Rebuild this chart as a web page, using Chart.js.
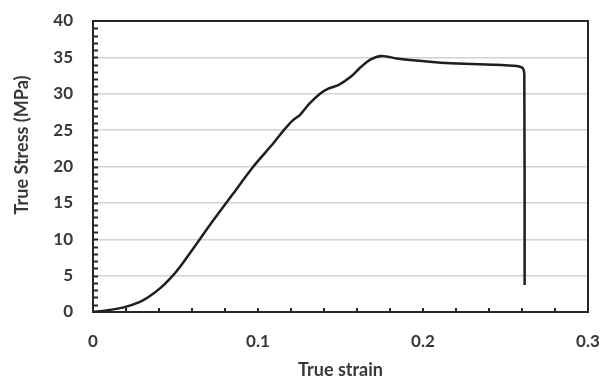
<!DOCTYPE html>
<html>
<head>
<meta charset="utf-8">
<script src="https://cdn.jsdelivr.net/npm/chart.js@4/dist/chart.umd.min.js"></script>
<style>
    html, body { margin: 0; padding: 0; background: #fff; }
    #wrap { width: 603px; height: 381px; }
</style>
</head>
<body>
<div id="wrap"><canvas id="stressChart" width="603" height="381"></canvas></div>
<script>
// values
const strain = [0, 0.008, 0.018, 0.0285, 0.0345, 0.0406, 0.0467, 0.0527, 0.0729, 0.085, 0.0972,
    0.1093, 0.1153, 0.1214, 0.1255, 0.131, 0.1376, 0.1426, 0.1487, 0.156, 0.162, 0.168, 0.175, 0.184,
    0.204, 0.2164, 0.2426, 0.2568, 0.2605, 0.2614, 0.2616];
const stress = [0, 0.2, 0.6, 1.4, 2.2, 3.25, 4.6, 6.2, 12.6, 16.3, 20.0,
    23.2, 24.9, 26.4, 27.1, 28.6, 30.0, 30.7, 31.2, 32.3, 33.6, 34.7, 35.2, 34.85,
    34.4, 34.2, 34.0, 33.8, 33.5, 32.5, 3.7];
const xTicks = [0, 0.1, 0.2, 0.3];
const yTicks = [0, 5, 10, 15, 20, 25, 30, 35, 40];
const xTitle = 'True strain';
const yTitle = 'True Stress (MPa)';

const TEXT_COLOR = '#383838';
const FONT = 'Lato, "Open Sans", sans-serif';

const points = strain.map((s, i) => ({ x: s, y: stress[i] }));

// frame, minor ticks and rotated y title
const framePlugin = {
    id: 'frame',
    afterDraw(chart) {
        const { ctx, chartArea: a, scales } = chart;
        const xs = scales.x, ys = scales.y;
        ctx.save();
        ctx.strokeStyle = '#262626';
        ctx.lineWidth = 2;

        ctx.beginPath();
        for (let v = 0.02; v < 0.3; v += 0.02) {
            const px = Math.round(xs.getPixelForValue(v));
            ctx.moveTo(px, a.bottom);
            ctx.lineTo(px, a.bottom - 4);
        }
        for (let v = 1; v < 40; v += 1) {
            const py = Math.round(ys.getPixelForValue(v)) + 0.5;
            ctx.moveTo(a.left, py);
            ctx.lineTo(a.left + 5, py);
        }
        ctx.stroke();

        ctx.strokeRect(a.left, a.top, a.right - a.left, a.bottom - a.top);

        ctx.fillStyle = TEXT_COLOR;
        ctx.font = 'bold 18px ' + FONT;
        ctx.textAlign = 'center';
        ctx.textBaseline = 'middle';
        ctx.translate(22, 145);
        ctx.rotate(-Math.PI / 2);
        ctx.fillText(yTitle, 0, 0);
        ctx.restore();
    }
};

new Chart(document.getElementById('stressChart'), {
    type: 'scatter',
    data: {
        datasets: [{
            data: points,
            showLine: true,
            borderColor: '#1e1e1e',
            borderWidth: 2.5,
            pointRadius: 0,
            tension: 0.25,
            fill: false
        }]
    },
    options: {
        responsive: false,
        animation: false,
        layout: {
            padding: { top: 21, right: 15, left: 0, bottom: 0 }
        },
        plugins: {
            legend: { display: false },
            tooltip: { enabled: false }
        },
        scales: {
            x: {
                type: 'linear',
                min: 0,
                max: 0.3,
                afterFit(scale) {
                    scale.height = 69;
                    scale.paddingLeft = 0;
                    scale.paddingRight = 0;
                },
                afterBuildTicks(scale) { scale.ticks = xTicks.map(v => ({ value: v })); },
                grid: { display: false, drawTicks: false },
                border: { display: false },
                ticks: {
                    padding: 19,
                    color: TEXT_COLOR,
                    font: { family: FONT, size: 17, weight: 'bold' },
                    maxRotation: 0,
                    callback: v => String(v)
                },
                title: {
                    display: true,
                    text: xTitle,
                    color: TEXT_COLOR,
                    font: { family: FONT, size: 18, weight: 'bold' },
                    padding: { top: 0, bottom: 0 }
                }
            },
            y: {
                min: 0,
                max: 40,
                afterFit(scale) {
                    scale.width = 93;
                    scale.paddingTop = 0;
                    scale.paddingBottom = 0;
                },
                afterBuildTicks(scale) { scale.ticks = yTicks.map(v => ({ value: v })); },
                grid: {
                    drawTicks: false,
                    color: ctx => (ctx.tick && (ctx.tick.value === 0 || ctx.tick.value === 40)) ? 'rgba(0,0,0,0)' : '#d2d2d2',
                    lineWidth: 1.5
                },
                border: { display: false },
                ticks: {
                    padding: 20,
                    color: TEXT_COLOR,
                    font: { family: FONT, size: 17, weight: 'bold' }
                }
            }
        }
    },
    plugins: [framePlugin]
});
</script>
</body>
</html>
